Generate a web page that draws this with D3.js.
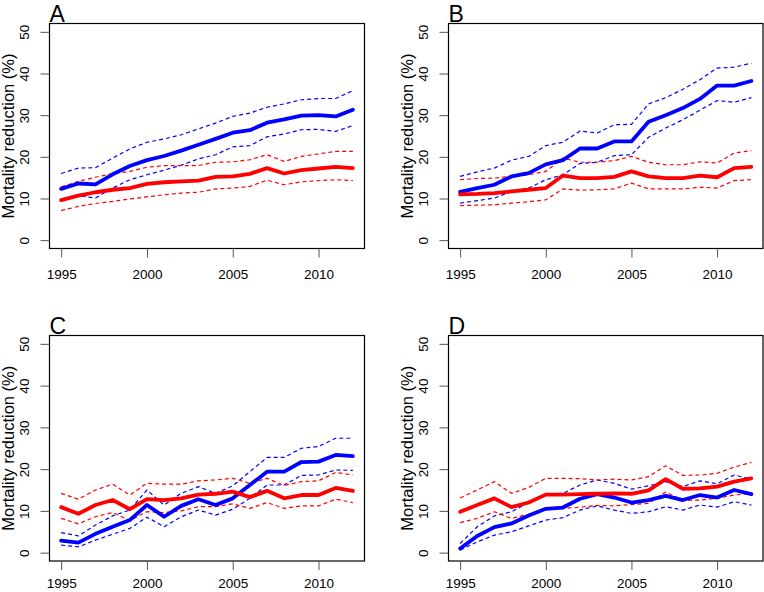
<!DOCTYPE html>
<html>
<head>
<meta charset="utf-8">
<script src="https://cdn.jsdelivr.net/npm/d3@7"></script>
<style>
  html, body { margin: 0; padding: 0; background: #fff; }
  svg { display: block; font-family: "Liberation Sans", Arial, Helvetica, sans-serif; }
</style>
</head>
<body>
<svg id="chart" width="764" height="592"></svg>
<script>
// ---------------- DATA ----------------
const years = d3.range(1995, 2013);
const xTicks = [1995, 2000, 2005, 2010];
const yTicks = [0, 10, 20, 30, 40, 50];
const panelLetters = ["A", "B", "C", "D"];
const yTitle = "Mortality reduction (%)";

// Panel A
const aBlue   = [12.3, 13.6, 13.4, 15.8, 17.8, 19.2, 20.2, 21.5, 22.9, 24.3, 25.8, 26.4, 28.2, 29.0, 29.9, 30.0, 29.7, 31.3];
const aBlueHi = [16.0, 17.3, 17.4, 19.7, 21.9, 23.5, 24.3, 25.3, 26.7, 28.1, 29.7, 30.5, 31.9, 32.7, 33.7, 34.0, 34.0, 35.9];
const aBlueLo = [9.6, 10.7, 10.1, 12.5, 14.5, 15.7, 16.8, 18.0, 19.5, 20.5, 22.4, 22.7, 24.8, 25.5, 26.5, 26.6, 26.1, 27.5];
const aRed    = [9.6, 10.7, 11.5, 12.1, 12.5, 13.5, 13.9, 14.1, 14.3, 15.2, 15.3, 15.9, 17.3, 16.0, 16.8, 17.2, 17.6, 17.3];
const aRedHi  = [12.8, 14.1, 15.1, 16.0, 16.5, 17.5, 17.9, 17.9, 17.9, 18.7, 18.8, 19.3, 20.5, 18.9, 20.1, 20.7, 21.3, 21.3];
const aRedLo  = [7.1, 8.1, 8.8, 9.3, 9.9, 10.4, 10.9, 11.3, 11.5, 12.3, 12.5, 12.9, 14.4, 13.3, 14.0, 14.3, 14.5, 14.3];

// Panel B
const bBlue   = [11.6, 12.5, 13.3, 15.3, 16.1, 18.2, 19.2, 22.0, 22.0, 23.7, 23.7, 28.4, 30.0, 31.7, 33.9, 37.1, 37.1, 38.2];
const bBlueHi = [15.3, 16.4, 17.3, 19.2, 20.1, 22.7, 23.5, 26.2, 25.7, 27.7, 27.8, 32.7, 34.2, 36.2, 38.5, 41.3, 41.5, 42.5];
const bBlueLo = [8.9, 9.5, 10.1, 11.7, 12.5, 14.5, 15.7, 18.4, 18.7, 20.3, 20.5, 24.7, 26.9, 28.9, 31.2, 33.5, 33.1, 34.2];
const bRed    = [11.0, 11.1, 11.3, 11.7, 12.1, 12.5, 15.5, 14.9, 14.9, 15.2, 16.5, 15.3, 14.9, 14.9, 15.5, 15.1, 17.3, 17.6];
const bRedHi  = [14.5, 14.8, 14.9, 15.3, 15.7, 16.5, 19.7, 18.7, 18.7, 19.1, 20.1, 18.7, 18.1, 18.1, 18.8, 18.5, 20.9, 21.5];
const bRedLo  = [8.3, 8.4, 8.5, 8.9, 9.2, 9.7, 12.3, 12.0, 12.1, 12.3, 13.7, 12.3, 12.3, 12.3, 12.7, 12.5, 14.3, 14.5];

// Panel C
const cBlue   = [2.9, 2.4, 4.5, 6.2, 7.8, 11.4, 8.6, 11.2, 12.8, 11.4, 13.0, 16.2, 19.4, 19.4, 21.7, 21.8, 23.4, 23.1];
const cBlueHi = [4.8, 4.0, 6.6, 8.8, 10.2, 15.0, 11.4, 14.2, 15.8, 14.2, 16.0, 19.4, 22.8, 22.8, 25.0, 25.4, 27.4, 27.4];
const cBlueLo = [1.8, 1.4, 3.0, 4.4, 5.8, 8.5, 6.2, 8.6, 10.2, 9.0, 10.4, 13.0, 16.2, 16.2, 18.5, 18.6, 19.8, 19.7];
const cRed    = [10.9, 9.3, 11.4, 12.6, 10.4, 12.8, 12.6, 13.0, 13.9, 14.1, 14.6, 13.3, 14.8, 13.0, 13.8, 13.8, 15.5, 14.8];
const cRedHi  = [14.2, 12.8, 15.0, 16.4, 13.8, 16.6, 16.4, 16.4, 17.2, 17.4, 17.8, 16.6, 17.8, 16.1, 17.0, 17.2, 19.2, 18.6];
const cRedLo  = [8.2, 6.9, 8.6, 9.6, 7.7, 9.8, 9.6, 10.0, 11.0, 11.0, 11.7, 10.6, 12.0, 10.6, 11.2, 11.2, 12.8, 12.0];

// Panel D
const dBlue   = [1.0, 4.0, 6.1, 7.0, 8.9, 10.5, 10.8, 12.9, 14.0, 13.2, 12.0, 12.6, 13.6, 12.6, 13.8, 13.2, 15.0, 14.0];
const dBlueHi = [2.2, 6.2, 8.8, 9.8, 12.0, 14.0, 14.2, 16.2, 17.4, 16.6, 15.2, 16.0, 17.0, 15.8, 17.2, 16.5, 18.6, 17.6];
const dBlueLo = [0.6, 2.6, 4.2, 5.0, 6.4, 7.8, 8.4, 10.2, 11.2, 10.2, 9.4, 9.8, 11.0, 10.2, 11.4, 10.9, 12.2, 11.4];
const dRed    = [9.8, 11.4, 13.0, 10.9, 12.0, 13.9, 13.9, 14.0, 14.1, 14.2, 14.1, 14.9, 17.6, 15.3, 15.4, 15.8, 17.0, 17.8];
const dRedHi  = [13.1, 15.0, 17.0, 14.2, 15.6, 17.8, 17.8, 17.7, 17.4, 17.6, 17.4, 18.2, 20.8, 18.5, 18.6, 19.0, 20.5, 21.6];
const dRedLo  = [7.2, 8.2, 9.8, 8.2, 9.2, 10.6, 10.6, 10.9, 11.3, 11.2, 11.5, 11.8, 14.5, 12.5, 12.6, 13.0, 13.8, 14.2];

// ---------------- LAYOUT ----------------
const panelSeries = [
  { blue: aBlue, blueHi: aBlueHi, blueLo: aBlueLo, red: aRed, redHi: aRedHi, redLo: aRedLo },
  { blue: bBlue, blueHi: bBlueHi, blueLo: bBlueLo, red: bRed, redHi: bRedHi, redLo: bRedLo },
  { blue: cBlue, blueHi: cBlueHi, blueLo: cBlueLo, red: cRed, redHi: cRedHi, redLo: cRedLo },
  { blue: dBlue, blueHi: dBlueHi, blueLo: dBlueLo, red: dRed, redHi: dRedHi, redLo: dRedLo }
];
const boxes = [
  { x0: 49.5, y0: 23.5, x1: 364.5, y1: 248.5, labY: 30.5 },
  { x0: 448.5, y0: 23.5, x1: 763, y1: 248.5, labY: 30.5 },
  { x0: 49.5, y0: 335.5, x1: 364.5, y1: 561, labY: 27 },
  { x0: 448.5, y0: 335.5, x1: 763, y1: 561, labY: 27 }
];
// R default axis extension (4%)
const xDomain = [1995 - 0.68, 2012 + 0.68];
const yDomain = [-2, 52];

const BLUE = "#0000FF", RED = "#FF0000";

const svg = d3.select("#chart");

panelSeries.forEach((s, i) => {
  const b = boxes[i];
  const x = d3.scaleLinear().domain(xDomain).range([b.x0, b.x1]);
  const y = d3.scaleLinear().domain(yDomain).range([b.y1, b.y0]);
  const g = svg.append("g");

  const line = d3.line().x((d, j) => x(years[j])).y(d => y(d));

  const addLine = (data, color, solid) => {
    g.append("path")
      .datum(data)
      .attr("d", line)
      .attr("fill", "none")
      .attr("stroke", color)
      .attr("stroke-width", solid ? 3.8 : 1.2)
      .attr("stroke-dasharray", solid ? null : "4,3")
      .attr("stroke-linejoin", "round")
      .attr("stroke-linecap", solid ? "round" : "butt");
  };
  addLine(s.blueHi, BLUE, false);
  addLine(s.blueLo, BLUE, false);
  addLine(s.redHi, RED, false);
  addLine(s.redLo, RED, false);
  addLine(s.blue, BLUE, true);
  addLine(s.red, RED, true);

  // box
  g.append("rect")
    .attr("x", b.x0).attr("y", b.y0)
    .attr("width", b.x1 - b.x0).attr("height", b.y1 - b.y0)
    .attr("fill", "none").attr("stroke", "#000").attr("stroke-width", 1.2);

  // y axis
  const ya = g.append("g")
    .attr("transform", `translate(${b.x0},0)`)
    .call(d3.axisLeft(y).tickValues(yTicks).tickSize(9).tickFormat(d3.format("d")));
  ya.select(".domain").remove();
  ya.selectAll(".tick line").attr("stroke", "#555");
  ya.selectAll(".tick text")
    .attr("x", null).attr("dy", null)
    .attr("text-anchor", "middle")
    .attr("transform", "translate(-21,0) rotate(-90)")
    .attr("font-size", 13.5)
    .attr("font-family", "Liberation Sans, Arial, sans-serif")
    .attr("fill", "#000");

  // x axis
  const xa = g.append("g")
    .attr("transform", `translate(0,${b.y1})`)
    .call(d3.axisBottom(x).tickValues(xTicks).tickSize(9).tickFormat(d3.format("d")));
  xa.select(".domain").remove();
  xa.selectAll(".tick line").attr("stroke", "#555");
  xa.selectAll(".tick text")
    .attr("y", b.labY).attr("dy", null)
    .attr("font-size", 13.5)
    .attr("font-family", "Liberation Sans, Arial, sans-serif")
    .attr("fill", "#000");

  // y title
  const cy = (b.y0 + b.y1) / 2;
  g.append("text")
    .attr("transform", `translate(${b.x0 - 36},${cy}) rotate(-90)`)
    .attr("text-anchor", "middle")
    .attr("font-size", 16.5)
    .attr("fill", "#000")
    .text(yTitle);

  // panel letter
  g.append("text")
    .attr("x", b.x0)
    .attr("y", b.y0 - 2)
    .attr("font-size", 23)
    .attr("fill", "#000")
    .text(panelLetters[i]);
});
</script>
</body>
</html>
